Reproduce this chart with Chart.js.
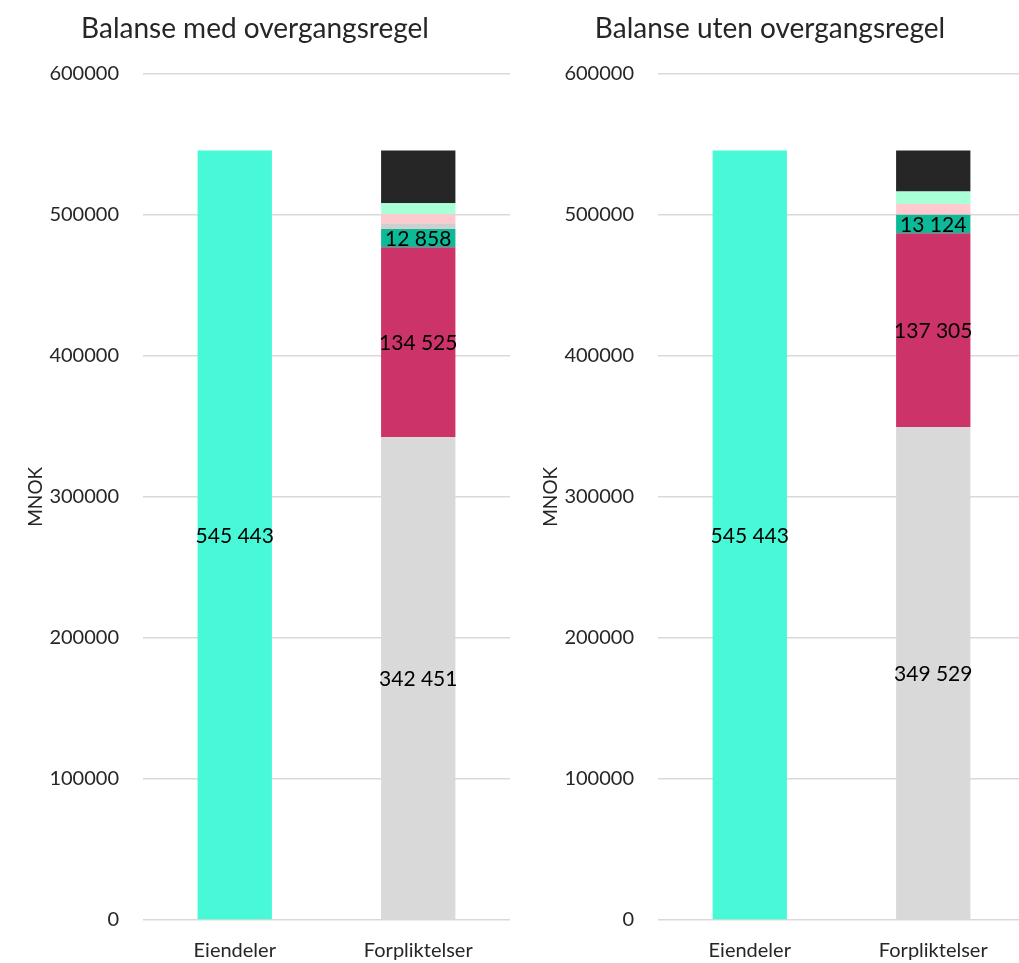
<!DOCTYPE html>
<html lang="no">
<head>
  <meta charset="UTF-8" />
  <title>Balanse med og uten overgangsregel</title>
  <script src="https://cdn.jsdelivr.net/npm/chart.js@4.4.0"></script>
  <style>
    * { box-sizing: border-box; margin: 0; padding: 0; }
    html, body { width: 1019px; height: 963px; overflow: hidden; background: #fff; }
    .panel { position: absolute; top: 0; width: 515px; height: 963px; }
    #left { left: 0; }
    #right { left: 515px; }
  </style>
</head>
<body>
  <div class="panel" id="left"><canvas id="chartMed"></canvas></div>
  <div class="panel" id="right"><canvas id="chartUten"></canvas></div>

  <script>
    // Categories and tick values
    const categories = ['Eiendeler', 'Forpliktelser'];
    const titles = ['Balanse med overgangsregel', 'Balanse uten overgangsregel'];
    const yTicks = [0, 100000, 200000, 300000, 400000, 500000, 600000];

    // Series values: [med overgangsregel, uten overgangsregel]
    const eiendeler   = [545443, 545443];
    const segGray     = [342451, 349529];
    const segCrimson  = [134525, 137305];
    const segTeal     = [12858, 13124];
    const segLightGr  = [4000, 0];
    const segPink     = [6400, 7600];
    const segMint     = [7800, 8950];
    const segBlack    = [37409, 28935];

    const FONT = "Lato, 'Liberation Sans', sans-serif";
    const fmt = v => Math.round(v).toString().replace(/\B(?=(\d{3})+(?!\d))/g, ' ');

    // writes the value inside the segments that carry a label
    const segLabels = {
      id: 'segLabels',
      afterDatasetsDraw(chart) {
        const ctx = chart.ctx;
        ctx.save();
        ctx.font = '21px ' + FONT;
        ctx.fillStyle = '#000';
        ctx.textAlign = 'center';
        ctx.textBaseline = 'middle';
        chart.data.datasets.forEach((ds, i) => {
          if (!ds.showLabel) return;
          chart.getDatasetMeta(i).data.forEach((bar, j) => {
            const v = ds.data[j];
            if (v == null || v === 0) return;
            ctx.fillText(fmt(v), bar.x, (bar.y + bar.base) / 2 + 1);
          });
        });
        ctx.restore();
      }
    };

    function buildChart(id, k) {
      const seg = (label, arr, color, showLabel) => ({
        label, data: [null, arr[k]], backgroundColor: color, showLabel, stack: 's'
      });
      return new Chart(document.getElementById(id), {
        type: 'bar',
        data: {
          labels: categories,
          datasets: [
            { label: 'Eiendeler', data: [eiendeler[k], null], backgroundColor: '#47F9D7', showLabel: true, stack: 's' },
            seg('Grå', segGray, '#D9D9D9', true),
            seg('Rød', segCrimson, '#CC3368', true),
            seg('Grønn', segTeal, '#0DB997', true),
            seg('Lysgrå', segLightGr, '#CFCFCF', false),
            seg('Rosa', segPink, '#FFC9D0', false),
            seg('Mint', segMint, '#A8FFD8', false),
            seg('Svart', segBlack, '#262626', false)
          ]
        },
        options: {
          responsive: true,
          maintainAspectRatio: false,
          animation: false,
          layout: { padding: { left: 0, right: 5, bottom: 0 } },
          datasets: { bar: { categoryPercentage: 1, barPercentage: 0.405 } },
          plugins: {
            legend: { display: false },
            tooltip: { enabled: false },
            title: {
              display: true,
              text: titles[k],
              color: '#262626',
              font: { family: FONT, size: 28, weight: 'normal' },
              padding: { top: 12, bottom: 28 }
            }
          },
          scales: {
            x: {
              stacked: true,
              afterFit(scale) { scale.height = 43; },
              grid: { display: false },
              border: { display: false },
              ticks: { color: '#262626', font: { family: FONT, size: 20 }, padding: 11 }
            },
            y: {
              stacked: true,
              min: 0,
              max: 600000,
              afterFit(scale) { scale.width = 143; },
              afterBuildTicks(scale) { scale.ticks = yTicks.map(v => ({ value: v })); },
              grid: { color: '#D9D9D9', lineWidth: 1.5, drawTicks: false },
              border: { display: false },
              ticks: {
                color: '#262626',
                font: { family: FONT, size: 20 },
                padding: 24,
                callback: v => String(v)
              },
              title: {
                display: true,
                text: 'MNOK',
                color: '#262626',
                font: { family: FONT, size: 19 },
                padding: { top: 24 }
              }
            }
          }
        },
        plugins: [segLabels]
      });
    }

    buildChart('chartMed', 0);
    buildChart('chartUten', 1);
  </script>
</body>
</html>
